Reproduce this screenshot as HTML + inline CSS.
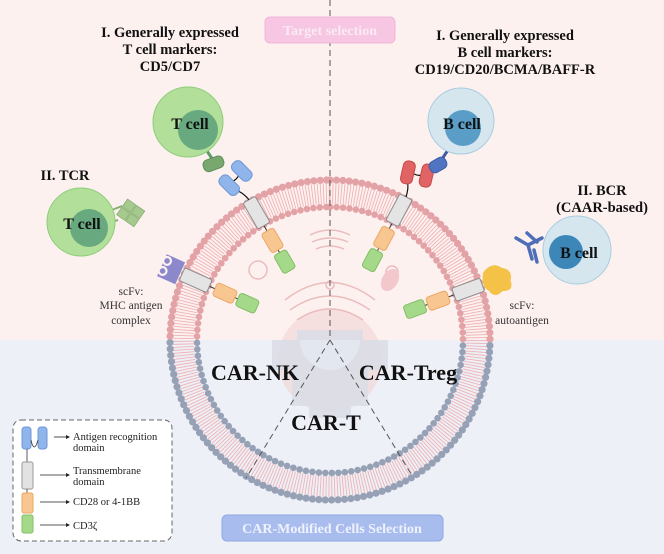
<!DOCTYPE html>
<html><head><meta charset="utf-8">
<style>
html,body{margin:0;padding:0;background:#fff}
svg{display:block}
text{font-family:"Liberation Serif",serif}
.b{font-weight:bold;fill:#111}
</style></head><body>
<svg id="s" width="664" height="554" viewBox="0 0 664 554" xmlns="http://www.w3.org/2000/svg">
<rect x="0" y="0" width="664" height="340" fill="#fdf1f0"/>
<rect x="0" y="340" width="664" height="214" fill="#edf0f6"/>
<circle cx="330" cy="360" r="52" fill="#f0d3d3" opacity="0.6"/>
<path d="M272 340 h25 v-10 h66 v10 h25 v30 h-20 v36 h-17 v12 h-42 v-12 h-17 v-36 h-20z" fill="#d8dce6" opacity="0.8"/>
<path d="M300 340 a30 30 0 0 0 60 0" fill="#e3e7f0"/>
<g fill="none" stroke="#ebbcbc" stroke-width="1.5">
<path d="M285 300 q45 -35 90 0"/><path d="M290 310 q40 -28 80 0"/><path d="M297 320 q33 -22 66 0"/>
<circle cx="258" cy="270" r="9"/><circle cx="392" cy="272" r="6"/><circle cx="330" cy="285" r="4"/>
<path d="M310 235 q20 -10 40 0 M312 242 q18 -8 36 0 M316 249 q14 -6 28 0"/>
</g>
<ellipse cx="390" cy="280" rx="8" ry="12" fill="#f3c8cc" transform="rotate(30 390 280)"/>
<g id="mem"></g>
<g id="cars"></g>
<g stroke="#555" stroke-width="1" stroke-dasharray="6,4" fill="none">
<line x1="330" y1="0" x2="330" y2="340"/>
<line x1="330" y1="340" x2="246" y2="478"/>
<line x1="330" y1="340" x2="411" y2="474"/>
</g>
<rect x="265" y="17" width="130" height="26" rx="5" fill="#f6c6e2" stroke="#f0b7d6"/>
<text x="330" y="35" text-anchor="middle" font-size="14" font-weight="bold" fill="#fbeaf4">Target selection</text>
<rect x="222" y="515" width="221" height="26" rx="5" fill="#a9bcee" stroke="#8ea6e4"/>
<text x="332" y="533" text-anchor="middle" font-size="14" font-weight="bold" fill="#eef2fd">CAR-Modified Cells Selection</text>
<g font-size="14.5" text-anchor="middle">
<text x="170" y="37" class="b">I. Generally expressed</text>
<text x="170" y="54" class="b">T cell markers:</text>
<text x="170" y="71" class="b">CD5/CD7</text>
<text x="505" y="40" class="b">I. Generally expressed</text>
<text x="505" y="57" class="b">B cell markers:</text>
<text x="505" y="74" class="b">CD19/CD20/BCMA/BAFF-R</text>
<text x="65" y="180" class="b">II. TCR</text>
<text x="602" y="195" class="b">II. BCR</text>
<text x="602" y="212" class="b">(CAAR-based)</text>
</g>
<g font-size="22" text-anchor="middle">
<text x="255" y="380" class="b">CAR-NK</text>
<text x="408" y="380" class="b">CAR-Treg</text>
<text x="326" y="430" class="b">CAR-T</text>
</g>
<g font-size="11.5" text-anchor="middle" fill="#333">
<text x="131" y="295">scFv:</text><text x="131" y="309">MHC  antigen</text><text x="131" y="324">complex</text>
<text x="522" y="309">scFv:</text><text x="522" y="324">autoantigen</text>
</g>
<line x1="205" y1="148" x2="213" y2="160" stroke="#5f9a6a" stroke-width="3"/>
<rect x="203" y="158" width="21" height="12" rx="5" fill="#79a86f" stroke="#5d8e57" transform="rotate(-20 213 164)"/>
<circle cx="188" cy="122" r="35" fill="#b2e09a" stroke="#8fcd7a"/>
<circle cx="198" cy="130" r="20" fill="#68a97f"/>
<text x="190" y="129" class="b" font-size="16" text-anchor="middle">T cell</text>

<g transform="translate(130,213) rotate(35)" fill="#a6c98d" stroke="#88ae70" stroke-width="0.8">
<rect x="-10" y="-10" width="10" height="9"/><rect x="1" y="-10" width="10" height="9"/><rect x="-10" y="0" width="10" height="9"/><rect x="1" y="0" width="10" height="9"/>
</g>
<line x1="112" y1="210" x2="122" y2="206" stroke="#88ae70" stroke-width="2"/>
<line x1="112" y1="222" x2="118" y2="220" stroke="#88ae70" stroke-width="2"/>
<circle cx="81" cy="222" r="34" fill="#b2e09a" stroke="#8fcd7a"/>
<circle cx="89" cy="228" r="19" fill="#68a97f"/>
<text x="82" y="229" class="b" font-size="16" text-anchor="middle">T cell</text>

<line x1="448" y1="150" x2="440" y2="162" stroke="#3d5e9c" stroke-width="3"/>
<rect x="429" y="159" width="18" height="12" rx="5" fill="#4f74c1" stroke="#3b5ea5" transform="rotate(-30 438 165)"/>
<circle cx="461" cy="121" r="33" fill="#d5e6ee" stroke="#a8cde0"/>
<circle cx="463" cy="128" r="18" fill="#5a9ec8"/>
<text x="462" y="129" class="b" font-size="16" text-anchor="middle">B cell</text>

<g stroke="#4e6fb8" stroke-width="3.5" fill="none" stroke-linecap="round">
<path d="M542 238 l-14 7 M528 245 l-12 -7 M528 245 l4 14 M537 242 l-10 -9 M534 250 l3 12"/>
</g>
<circle cx="577" cy="250" r="34" fill="#d5e6ee" stroke="#a8cde0"/>
<circle cx="566" cy="252" r="17" fill="#3c86b8"/>
<text x="579" y="258" class="b" font-size="16" text-anchor="middle">B cell</text>
<rect x="13" y="420" width="159" height="121" rx="8" fill="#fff" stroke="#666" stroke-dasharray="5,3"/>
<rect x="22" y="427" width="9" height="22" rx="3" fill="#8fb5ea" stroke="#6f97d8"/>
<rect x="38" y="427" width="9" height="22" rx="3" fill="#8fb5ea" stroke="#6f97d8"/>
<path d="M31 440 q3 14 7 0" fill="none" stroke="#333" stroke-width="0.8"/>
<line x1="27" y1="449" x2="27" y2="462" stroke="#333" stroke-width="0.8"/>
<rect x="22" y="462" width="11" height="27" rx="2" fill="#e2e2e2" stroke="#999"/>
<line x1="27" y1="489" x2="27" y2="493" stroke="#333" stroke-width="0.8"/>
<rect x="22" y="493" width="11" height="20" rx="2" fill="#f8c690" stroke="#eba865"/>
<rect x="22" y="515" width="11" height="18" rx="2" fill="#a5d98a" stroke="#82bf65"/>
<g stroke="#222" stroke-width="0.8"><line x1="54" y1="437" x2="68" y2="437"/><line x1="40" y1="475" x2="68" y2="475"/><line x1="40" y1="502" x2="68" y2="502"/><line x1="40" y1="525" x2="68" y2="525"/></g>
<g fill="#222"><path d="M70 437 l-4 -2 v4z"/><path d="M70 475 l-4 -2 v4z"/><path d="M70 502 l-4 -2 v4z"/><path d="M70 525 l-4 -2 v4z"/></g>
<g font-size="10.5" fill="#222">
<text x="73" y="440">Antigen recognition</text><text x="73" y="451">domain</text>
<text x="73" y="474">Transmembrane</text><text x="73" y="485">domain</text>
<text x="73" y="505">CD28 or 4-1BB</text>
<text x="73" y="529">CD3ζ</text>
</g>
</svg>
<script>
var NS="http://www.w3.org/2000/svg",cx=330,cy=340;
function el(t,a,p){var e=document.createElementNS(NS,t);for(var k in a)e.setAttribute(k,a[k]);p.appendChild(e);return e;}
var mem=document.getElementById('mem');
for(var i=0;i<360;i+=1.1){var a=i*Math.PI/180,s=Math.sin(a),c=Math.cos(a);
 var top=(cy-150*c)<340.5;
 el('line',{x1:cx+136*s,y1:cy-136*c,x2:cx+157*s,y2:cy-157*c,stroke:top?'#efb3b6':'#b6bfd6','stroke-width':0.9},mem);}
for(var i=0;i<360;i+=2.3){var a=i*Math.PI/180,s=Math.sin(a),c=Math.cos(a);
 var y=cy-160*c;el('circle',{cx:cx+160*s,cy:y,r:3.6,fill:y<340?'#e2a2a6':'#97a1b6'},mem);}
for(var i=0;i<360;i+=2.8){var a=i*Math.PI/180,s=Math.sin(a),c=Math.cos(a);
 var y=cy-133*c;el('circle',{cx:cx+133*s,cy:y,r:3.3,fill:y<340?'#e2a2a6':'#97a1b6'},mem);}
var cars=document.getElementById('cars');
function car(ang,kind){var g=el('g',{transform:'translate(330,340) rotate('+ang+')'},cars);
 el('line',{x1:0,y1:-80,x2:0,y2:-162,stroke:'#333','stroke-width':1},g);
 el('rect',{x:-7,y:-162,width:14,height:30,rx:2,fill:'#e4e4e4',stroke:'#8c8c8c'},g);
 el('rect',{x:-7,y:-126,width:14,height:22,rx:3,fill:'#f8c690',stroke:'#eba865'},g);
 el('rect',{x:-7,y:-101,width:14,height:21,rx:3,fill:'#a5d98a',stroke:'#82bf65'},g);
 if(kind=='blue'||kind=='red'){var f=kind=='blue'?'#8fb5ea':'#e06464',st=kind=='blue'?'#6f97d8':'#c94848';
  el('path',{d:'M0 -162 q-2 -10 -6 -14 q-6 -8 2 -10 q7 0 10 -6',fill:'none',stroke:'#111','stroke-width':1.2},g);
  el('rect',{x:-16,y:-196,width:12,height:23,rx:5,fill:f,stroke:st,transform:'rotate(-15 -10 -185)'},g);
  el('rect',{x:2,y:-202,width:12,height:23,rx:5,fill:f,stroke:st,transform:'rotate(-15 8 -191)'},g);}
 if(kind=='purple'){el('path',{d:'M-12 -184 h24 v20 h-24z',fill:'#8c88cc'},g);
  el('circle',{cx:-5,cy:-181,r:5,fill:'#fdf1f0'},g);el('circle',{cx:6,cy:-181,r:5,fill:'#fdf1f0'},g);
  el('circle',{cx:-5,cy:-181,r:2.8,fill:'#8c88cc'},g);el('circle',{cx:6,cy:-181,r:2.8,fill:'#8c88cc'},g);}
 if(kind=='yellow'){el('path',{d:'M-11 -167 q-8 -12 2 -19 q5 -10 15 -4 q11 0 7 11 q5 10 -5 13 q-7 6 -19 -1z',fill:'#f4c246'},g);}
}
car(-30,'blue');car(-66,'purple');car(28,'red');car(70,'yellow');
</script>
</body></html>
